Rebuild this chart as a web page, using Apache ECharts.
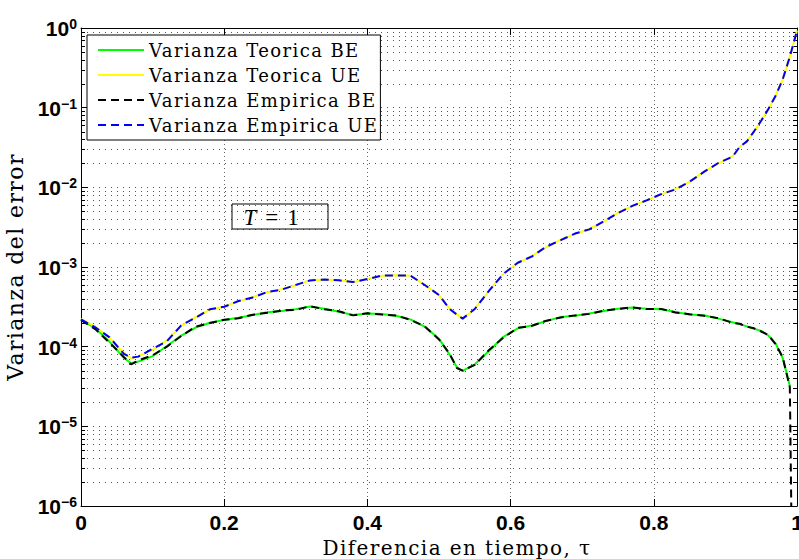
<!DOCTYPE html>
<html>
<head>
<meta charset="utf-8">
<script src="https://cdn.jsdelivr.net/npm/echarts@6/dist/echarts.min.js"></script>
<style>
  html, body { margin: 0; padding: 0; background: #fff; }
  #chart { width: 799px; height: 559px; }
  /* LaTeX-like spacing for serif captions */
  #chart text[style*="DejaVu Serif"] { letter-spacing: 1.4px; }
</style>
</head>
<body>
<div id="chart"></div>
<script>
// Time difference samples
const tau = [0, 0.02, 0.04, 0.06, 0.07, 0.08, 0.10, 0.12, 0.14, 0.16, 0.18, 0.20, 0.22, 0.24, 0.26, 0.28, 0.30, 0.32, 0.34, 0.36, 0.38, 0.40, 0.42, 0.44, 0.46, 0.48, 0.50, 0.515, 0.525, 0.533, 0.55, 0.57, 0.59, 0.61, 0.63, 0.65, 0.67, 0.69, 0.71, 0.73, 0.75, 0.77, 0.79, 0.81, 0.83, 0.85, 0.87, 0.89, 0.91, 0.92, 0.93, 0.94, 0.95, 0.96, 0.97, 0.98, 0.99, 1.0];

// Theoretical error variance, BE
const varTeoBE = [2.2e-4, 1.7e-4, 1.15e-4, 7.2e-5, 6.2e-5, 6.5e-5, 7.6e-5, 1.02e-4, 1.38e-4, 1.74e-4, 2.0e-4, 2.16e-4, 2.3e-4, 2.5e-4, 2.7e-4, 2.8e-4, 2.95e-4, 3.2e-4, 3.0e-4, 2.75e-4, 2.5e-4, 2.6e-4, 2.57e-4, 2.45e-4, 2.2e-4, 1.78e-4, 1.26e-4, 7.9e-5, 5.5e-5, 4.95e-5, 6.0e-5, 8.9e-5, 1.33e-4, 1.7e-4, 1.85e-4, 2.1e-4, 2.35e-4, 2.45e-4, 2.6e-4, 2.8e-4, 3.0e-4, 3.1e-4, 3.0e-4, 2.95e-4, 2.72e-4, 2.54e-4, 2.48e-4, 2.25e-4, 2.02e-4, 1.92e-4, 1.8e-4, 1.68e-4, 1.58e-4, 1.38e-4, 1.1e-4, 7.2e-5, 3.2e-5, null];

// Theoretical error variance, UE
const varTeoUE = [2.24e-4, 1.78e-4, 1.29e-4, 8.3e-5, 7.1e-5, 7.6e-5, 9.1e-5, 1.2e-4, 1.82e-4, 2.35e-4, 2.9e-4, 3.2e-4, 3.7e-4, 4.2e-4, 4.8e-4, 5.25e-4, 5.9e-4, 6.85e-4, 6.9e-4, 6.85e-4, 6.45e-4, 7.1e-4, 7.75e-4, 7.9e-4, 7.75e-4, 6.0e-4, 4.4e-4, 3.0e-4, 2.55e-4, 2.23e-4, 3.0e-4, 5.0e-4, 8.3e-4, 1.12e-3, 1.38e-3, 1.78e-3, 2.2e-3, 2.6e-3, 3.0e-3, 3.7e-3, 4.8e-3, 5.8e-3, 6.9e-3, 8.1e-3, 9.5e-3, 1.17e-2, 1.58e-2, 2.0e-2, 2.45e-2, 3.2e-2, 3.8e-2, 5.0e-2, 6.9e-2, 9.5e-2, 0.141, 0.224, 0.44, 0.93];

// Empirical error variance, BE
const varEmpBE = [2.15e-4, 1.66e-4, 1.12e-4, 7.4e-5, 6.0e-5, 6.7e-5, 7.8e-5, 1.0e-4, 1.36e-4, 1.78e-4, 1.98e-4, 2.18e-4, 2.27e-4, 2.52e-4, 2.66e-4, 2.84e-4, 2.9e-4, 3.22e-4, 2.95e-4, 2.78e-4, 2.47e-4, 2.62e-4, 2.53e-4, 2.47e-4, 2.17e-4, 1.8e-4, 1.23e-4, 8.1e-5, 5.4e-5, 5.0e-5, 5.9e-5, 9.1e-5, 1.3e-4, 1.72e-4, 1.83e-4, 2.12e-4, 2.32e-4, 2.47e-4, 2.58e-4, 2.83e-4, 2.97e-4, 3.12e-4, 2.96e-4, 2.98e-4, 2.69e-4, 2.56e-4, 2.45e-4, 2.28e-4, 1.99e-4, 1.94e-4, 1.78e-4, 1.7e-4, 1.55e-4, 1.4e-4, 1.08e-4, 7.4e-5, 3.1e-5, 1e-12];

// Empirical error variance, UE
const varEmpUE = [2.2e-4, 1.75e-4, 1.31e-4, 8.1e-5, 7.3e-5, 7.5e-5, 9.4e-5, 1.17e-4, 1.85e-4, 2.31e-4, 2.94e-4, 3.17e-4, 3.74e-4, 4.15e-4, 4.86e-4, 5.2e-4, 5.96e-4, 6.78e-4, 6.95e-4, 6.8e-4, 6.5e-4, 7.05e-4, 7.8e-4, 7.85e-4, 7.8e-4, 5.95e-4, 4.45e-4, 2.96e-4, 2.53e-4, 2.25e-4, 2.97e-4, 5.05e-4, 8.2e-4, 1.13e-3, 1.36e-3, 1.8e-3, 2.17e-3, 2.63e-3, 2.97e-3, 3.74e-3, 4.75e-3, 5.86e-3, 6.85e-3, 8.2e-3, 9.4e-3, 1.18e-2, 1.56e-2, 2.02e-2, 2.42e-2, 3.23e-2, 3.77e-2, 5.05e-2, 6.85e-2, 9.6e-2, 0.14, 0.226, 0.436, 0.93];

const seriesNames = ['Varianza Teorica BE', 'Varianza Teorica UE', 'Varianza Empirica BE', 'Varianza Empirica UE'];

// Axis ticks
const xTicks = [0, 0.2, 0.4, 0.6, 0.8, 1];
const xTickLabels = ['0', '0.2', '0.4', '0.6', '0.8', '1'];
const yDecades = [1e-6, 1e-5, 1e-4, 1e-3, 1e-2, 1e-1, 1];
const yExponents = ['\u22126', '\u22125', '\u22124', '\u22123', '\u22122', '\u22121', '0'];
const minorMultipliers = [2, 3, 4, 5, 6, 7, 8, 9];

// Minor log grid positions (2..9 within each decade)
const minorRows = [];
yDecades.slice(0, -1).forEach(function (d) {
  minorMultipliers.forEach(function (m) { minorRows.push([0, +(d * m).toPrecision(3)]); });
});

function pairs(values) {
  const out = [];
  tau.forEach(function (t, i) { if (values[i] != null) out.push([t, values[i]]); });
  return out;
}

function xLabel(v) {
  const i = xTicks.findIndex(function (t) { return Math.abs(t - v) < 1e-9; });
  return i >= 0 ? xTickLabels[i] : '';
}

function yLabel(v) {
  const i = yDecades.findIndex(function (d) { return Math.abs(Math.log10(d) - Math.log10(v)) < 1e-6; });
  return i >= 0 ? '{b|10}{e|' + yExponents[i] + '}' : '';
}

function renderMinorRow(params, api) {
  const v = api.value(1);
  const a = api.coord([0, v]);
  const b = api.coord([1, v]);
  const y = Math.round(a[1]) + 0.5;
  return {
    type: 'group',
    children: [
      { type: 'line', shape: { x1: a[0], y1: y, x2: b[0], y2: y }, style: { stroke: '#555', lineWidth: 1, lineDash: [1, 5] } },
      { type: 'line', shape: { x1: a[0], y1: y, x2: a[0] + 4, y2: y }, style: { stroke: '#000', lineWidth: 1 } },
      { type: 'line', shape: { x1: b[0] - 4, y1: y, x2: b[0], y2: y }, style: { stroke: '#000', lineWidth: 1 } }
    ]
  };
}

const chart = echarts.init(document.getElementById('chart'), null, { renderer: 'svg' });

const frameLine = { show: true, onZero: false, lineStyle: { color: '#000', width: 1 } };
const tickIn = { show: true, inside: true, length: 7, lineStyle: { color: '#000', width: 1 } };

chart.setOption({
  animation: false,
  backgroundColor: '#fff',
  grid: { left: 81, right: 2, top: 28, bottom: 53, containLabel: false, outerBoundsMode: 'none' },
  legend: {
    orient: 'vertical',
    left: 87,
    top: 35,
    data: seriesNames,
    selectedMode: false,
    itemWidth: 46,
    itemHeight: 14,
    itemGap: 5,
    padding: [5, 30, 5, 10],
    backgroundColor: '#fff',
    borderColor: '#000',
    borderWidth: 1,
    borderRadius: 0,
    itemStyle: { opacity: 0 },
    textStyle: { fontFamily: 'DejaVu Serif', fontSize: 18, lineHeight: 20, color: '#000' }
  },
  xAxis: [
    {
      type: 'value', min: 0, max: 1, interval: 0.2,
      axisLine: frameLine, axisTick: tickIn,
      axisLabel: { formatter: xLabel, margin: 6, color: '#000', fontFamily: 'Liberation Sans', fontWeight: 'bold', fontSize: 21 },
      splitLine: { show: true, lineStyle: { color: '#666', width: 1, type: [1, 3] } },
      name: 'Diferencia en tiempo, \u03c4',
      nameLocation: 'middle',
      nameGap: 30,
      nameTextStyle: { fontFamily: 'DejaVu Serif', fontSize: 20, color: '#000', padding: [0, 0, 0, 36] }
    },
    {
      type: 'value', min: 0, max: 1, interval: 0.2, position: 'top',
      axisLine: frameLine, axisTick: tickIn, axisLabel: { show: false }, splitLine: { show: false }
    }
  ],
  yAxis: [
    {
      type: 'log', logBase: 10, min: 1e-6, max: 1, splitNumber: 6,
      axisLine: frameLine, axisTick: tickIn,
      axisLabel: {
        formatter: yLabel, margin: 4, color: '#000',
        rich: {
          b: { fontFamily: 'Liberation Sans', fontWeight: 'bold', fontSize: 21, lineHeight: 22, verticalAlign: 'bottom' },
          e: { fontFamily: 'Liberation Sans', fontWeight: 'bold', fontSize: 14, lineHeight: 14, padding: [0, 0, 14, 0], verticalAlign: 'top' }
        }
      },
      splitLine: { show: true, lineStyle: { color: '#555', width: 1, type: [1, 5] } },
      name: 'Varianza del error',
      nameLocation: 'middle',
      nameGap: 54,
      nameRotate: 90,
      nameTextStyle: { fontFamily: 'DejaVu Serif', fontSize: 22, color: '#000' }
    },
    {
      type: 'log', logBase: 10, min: 1e-6, max: 1, splitNumber: 6, position: 'right',
      axisLine: frameLine, axisTick: tickIn, axisLabel: { show: false }, splitLine: { show: false }
    }
  ],
  series: [
    {
      type: 'custom', name: 'minor-grid', silent: true, z: 1,
      renderItem: renderMinorRow, data: minorRows, encode: { x: 0, y: 1 }
    },
    {
      type: 'line', name: seriesNames[0], data: pairs(varTeoBE), symbol: 'none', showSymbol: false, z: 3,
      lineStyle: { color: '#00ff00', width: 2 }, itemStyle: { color: '#00ff00' }
    },
    {
      type: 'line', name: seriesNames[1], data: pairs(varTeoUE), symbol: 'none', showSymbol: false, z: 3,
      lineStyle: { color: '#ffff00', width: 2 }, itemStyle: { color: '#ffff00' }
    },
    {
      type: 'line', name: seriesNames[2], data: pairs(varEmpBE), symbol: 'none', showSymbol: false, z: 4,
      lineStyle: { color: '#000000', width: 2, type: [8, 5] }, itemStyle: { color: '#000000' }
    },
    {
      type: 'line', name: seriesNames[3], data: pairs(varEmpUE), symbol: 'none', showSymbol: false, z: 4,
      lineStyle: { color: '#0000ff', width: 2, type: [8, 5] }, itemStyle: { color: '#0000ff' }
    }
  ],
  graphic: [
    {
      type: 'rect', x: 232, y: 204, z: 10,
      shape: { width: 96, height: 25 },
      style: { fill: 'none', stroke: '#000', lineWidth: 1 }
    },
    {
      type: 'text', x: 271, y: 217, z: 10,
      style: {
        text: '{i|T}{n|=}{n|1}',
        align: 'center', verticalAlign: 'middle',
        fontFamily: 'Liberation Serif', fontSize: 23, fill: '#000',
        rich: {
          i: { fontFamily: 'Liberation Serif', fontSize: 23, fontStyle: 'italic' },
          n: { fontFamily: 'Liberation Serif', fontSize: 23, padding: [0, 0, 0, 9] }
        }
      }
    }
  ]
});
</script>
</body>
</html>
